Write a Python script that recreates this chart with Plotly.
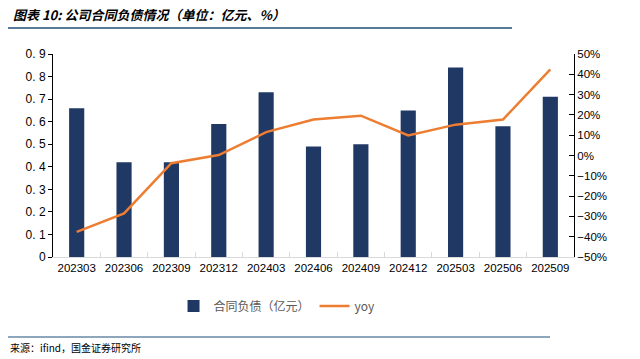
import plotly.graph_objects as go

categories = ["202303", "202306", "202309", "202312", "202403", "202406",
              "202409", "202412", "202503", "202506", "202509"]
contract_liab = [0.66, 0.42, 0.42, 0.59, 0.73, 0.49, 0.50, 0.65, 0.84, 0.58, 0.71]
yoy = [-37.6, -28.5, -3.8, 0.2, 11.5, 17.7, 19.6, 9.9, 15.2, 17.7, 42.4]

left_tickvals = [0, 0.1, 0.2, 0.3, 0.4, 0.5, 0.6, 0.7, 0.8, 0.9]
left_ticktext = ["0", "0. 1", "0. 2", "0. 3", "0. 4", "0. 5", "0. 6", "0. 7", "0. 8", "0. 9"]

title_text = "图表 10: 公司合同负债情况（单位：亿元、%）"
source_text = "来源：ifind，国金证券研究所"

num_font = "Liberation Sans, Arial"
cjk_font = "Noto Sans CJK SC, Noto Sans, sans-serif"

PW, PH = 521, 203
ML, MB = 53, 102

def px(x):
    return (x - ML) / PW

def py(y):
    return (359 - y - MB) / PH

fig = go.Figure()
fig.add_trace(go.Bar(
    x=categories, y=contract_liab, name="合同负债（亿元）",
    marker=dict(color="#203864", line=dict(width=0)),
    yaxis="y",
))
fig.add_trace(go.Scatter(
    x=categories, y=yoy, name="yoy", mode="lines",
    line=dict(color="#ED7D31", width=2.5),
    yaxis="y2",
))

fig.update_layout(
    width=640, height=359,
    margin=dict(l=ML, r=66, t=54, b=MB, autoexpand=False),
    paper_bgcolor="white", plot_bgcolor="white",
    bargap=0.68,
    showlegend=True,
    legend=dict(
        orientation="h", x=0.43, xanchor="center", y=py(306), yanchor="middle",
        font=dict(family=cjk_font, size=12, color="#595959"),
        itemwidth=30, traceorder="normal",
    ),
    xaxis=dict(
        type="category", tickangle=0,
        showline=True, linecolor="#D9D9D9", linewidth=1,
        ticks="inside", tickson="boundaries", tickcolor="#D9D9D9", ticklen=5,
        tickfont=dict(family=num_font, size=11.5, color="#000000"),
        showgrid=False, zeroline=False,
    ),
    yaxis=dict(
        range=[0, 0.9], tickvals=left_tickvals, ticktext=left_ticktext,
        showline=True, linecolor="#000000", linewidth=1,
        ticks="outside", ticklen=4, tickcolor="#000000",
        tickfont=dict(family=num_font, size=12, color="#000000"),
        showgrid=False, zeroline=False,
    ),
    yaxis2=dict(
        range=[-50, 50], dtick=10, ticksuffix="%", overlaying="y", side="right",
        showline=True, linecolor="#000000", linewidth=1,
        ticks="inside", ticklen=5, tickcolor="#000000",
        tickfont=dict(family=num_font, size=11.5, color="#000000"),
        showgrid=False, zeroline=False,
    ),
    shapes=[
        dict(type="line", xref="paper", yref="paper",
             x0=px(8), x1=px(512), y0=py(28), y1=py(28),
             line=dict(color="#1F4E79", width=1.5)),
        dict(type="line", xref="paper", yref="paper",
             x0=px(8), x1=px(550), y0=py(337), y1=py(337),
             line=dict(color="#1F4E79", width=1.2)),
    ],
    annotations=[
        dict(text="<b><i>" + title_text + "</i></b>", xref="paper", yref="paper",
             x=px(11), y=py(14), xanchor="left", yanchor="middle",
             showarrow=False, font=dict(family=cjk_font, size=13, color="#000000")),
        dict(text=source_text, xref="paper", yref="paper",
             x=px(8), y=py(347), xanchor="left", yanchor="middle",
             showarrow=False, font=dict(family=cjk_font, size=10, color="#000000")),
    ],
)

fig.write_html(
    "out.html",
    config={"displayModeBar": False},
    post_script="document.body.style.margin='0';document.body.style.overflow='hidden';",
)
